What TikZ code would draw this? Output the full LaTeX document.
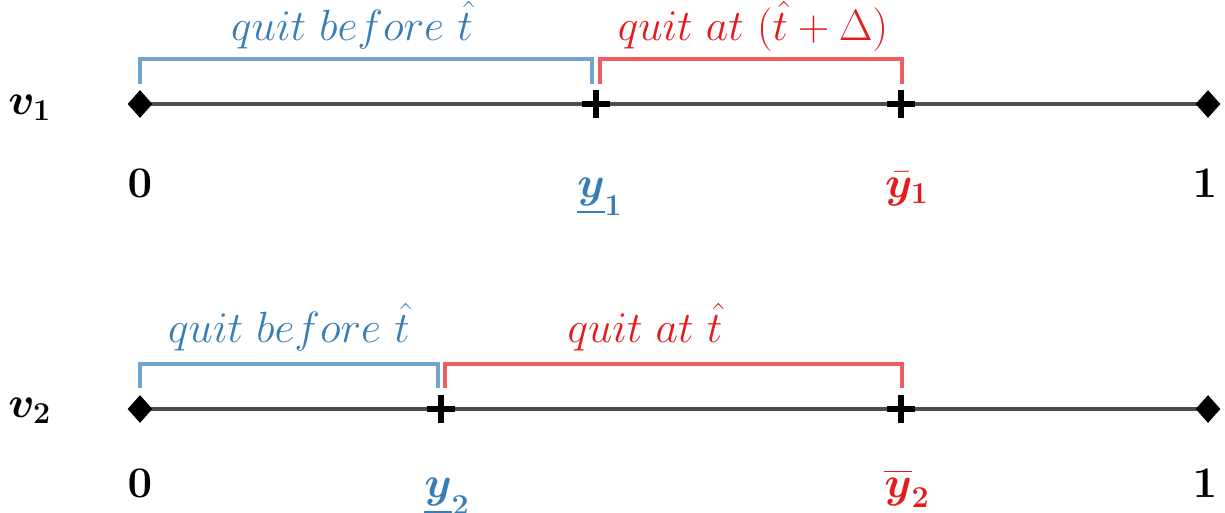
\documentclass[tikz,border=0pt]{standalone}
\usepackage{amsmath,bm}
\usetikzlibrary{shapes.geometric}
\definecolor{setblue}{HTML}{377EB8}
\definecolor{setred}{HTML}{E41A1C}
\definecolor{axisgray}{HTML}{4D4D4D}
\begin{document}
\begin{tikzpicture}[x=0.02cm,y=-0.02cm,
  axisline/.style={draw=axisgray,line width=2.8pt},
  bluebrk/.style={draw=setblue,draw opacity=0.7,line width=2.3pt},
  redbrk/.style={draw=setred,draw opacity=0.7,line width=2.3pt},
  endmark/.style={diamond,fill=black,inner sep=0pt,minimum width=0.5cm,minimum height=0.56cm},
  plusmark/.style={inner sep=0pt,minimum size=0.54cm},
  plusline/.style={draw=black,line width=3pt},
  lbl/.style={font=\fontsize{25}{30}\selectfont,inner sep=0pt}]
\useasboundingbox (0,0) rectangle (1225,512);

% ---------- row 1 ----------
\coordinate (a1) at (140,104);
\coordinate (b1) at (1208,104);
\draw[axisline] (a1) -- (b1);
\node[endmark] (d10) at (a1) {};
\node[endmark] (d11) at (b1) {};
\node[plusmark] (p1a) at (596,104) {};
\node[plusmark] (p1b) at (901,104) {};
\foreach \p in {p1a,p1b}{\draw[plusline] (\p.north) -- (\p.south) (\p.west) -- (\p.east);}
% brackets
\coordinate (bl1) at (140,84); \coordinate (bl1t) at (140,59);
\coordinate (br1) at (592,84); \coordinate (br1t) at (592,59);
\coordinate (rl1) at (600,84); \coordinate (rl1t) at (600,59);
\coordinate (rr1) at (902,84); \coordinate (rr1t) at (902,59);
\draw[bluebrk] (bl1) -- (bl1t) -- (br1t) -- (br1);
\draw[redbrk] (rl1) -- (rl1t) -- (rr1t) -- (rr1);
\node[lbl,anchor=base,text=setblue] (q1a) at (352,40) {$quit\ before\ \hat{t}$};
\node[lbl,anchor=base,text=setred] (q1b) at (753,40) {$quit\ at\ (\hat{t}+\Delta)$};
% labels
\node[lbl,anchor=base west] (v1) at (8,114) {$\bm{v_1}$};
\node[lbl,anchor=base] (z1) at (140,197) {$\mathbf{0}$};
\node[lbl,anchor=base,text=setblue] (y1l) at (600,197) {$\underline{\bm{y}}_{\mathbf{1}}$};
\node[lbl,anchor=base,text=setred] (y1u) at (907,197) {$\bar{\bm{y}}_{\mathbf{1}}$};
\node[lbl,anchor=base] (o1) at (1205,197) {$\mathbf{1}$};

% ---------- row 2 ----------
\coordinate (a2) at (140,409);
\coordinate (b2) at (1208,409);
\draw[axisline] (a2) -- (b2);
\node[endmark] (d20) at (a2) {};
\node[endmark] (d21) at (b2) {};
\node[plusmark] (p2a) at (441,409) {};
\node[plusmark] (p2b) at (901,409) {};
\foreach \p in {p2a,p2b}{\draw[plusline] (\p.north) -- (\p.south) (\p.west) -- (\p.east);}
\coordinate (bl2) at (140,388); \coordinate (bl2t) at (140,364);
\coordinate (br2) at (438,388); \coordinate (br2t) at (438,364);
\coordinate (rl2) at (445,388); \coordinate (rl2t) at (445,364);
\coordinate (rr2) at (902,388); \coordinate (rr2t) at (902,364);
\draw[bluebrk] (bl2) -- (bl2t) -- (br2t) -- (br2);
\draw[redbrk] (rl2) -- (rl2t) -- (rr2t) -- (rr2);
\node[lbl,anchor=base,text=setblue] (q2a) at (289,342) {$quit\ before\ \hat{t}$};
\node[lbl,anchor=base,text=setred] (q2b) at (645,342) {$quit\ at\ \hat{t}$};
\node[lbl,anchor=base west] (v2) at (8,417) {$\bm{v_2}$};
\node[lbl,anchor=base] (z2) at (140,497) {$\mathbf{0}$};
\node[lbl,anchor=base,text=setblue] (y2l) at (447,497) {$\underline{\bm{y}}_{\mathbf{2}}$};
\node[lbl,anchor=base,text=setred] (y2u) at (907,497) {$\overline{\bm{y}}_{\mathbf{2}}$};
\node[lbl,anchor=base] (o2) at (1205,497) {$\mathbf{1}$};
\end{tikzpicture}
\end{document}
